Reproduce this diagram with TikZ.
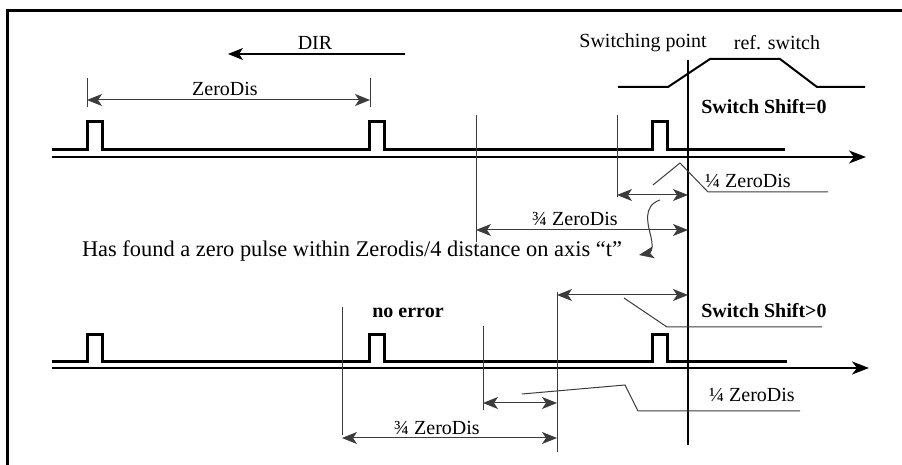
\documentclass[tikz,border=0pt]{standalone}
\usepackage{fontspec}
\setmainfont{Liberation Serif}
\usetikzlibrary{arrows.meta, positioning, calc}
\definecolor{thincol}{RGB}{60,60,60}

\begin{document}
\begin{tikzpicture}[
  x=0.5pt, y=-0.5pt,
  frame/.style={line width=1.5pt},
  signal/.style={line width=1.5pt, line join=miter},
  taxis/.style={line width=1pt, -{Stealth[length=8.5pt, width=6.5pt, inset=2.5pt]}},
  switchline/.style={line width=1.2pt},
  refsw/.style={line width=1pt},
  thinl/.style={line width=0.5pt, draw=thincol},
  dimarrow/.style={thinl, {Stealth[length=7.5pt, width=6pt, inset=2pt]}-{Stealth[length=7.5pt, width=6pt, inset=2pt]}},
  onearrow/.style={thinl, -{Stealth[length=7.5pt, width=6pt, inset=2pt]}},
  lbl/.style={inner sep=1pt, font=\fontsize{10}{12}\selectfont},
  blbl/.style={lbl, font=\fontsize{10}{12}\selectfont\bfseries}
]
\useasboundingbox (0,0) rectangle (902,465);

% Frame (cut off at right and bottom)
\draw[frame] (7,465) -- (7,11) -- (902,11);

% Direction
\coordinate (dirS) at (405,54);
\coordinate (dirE) at (228,54);
\draw[onearrow, line width=0.6pt, draw=black] (dirS) -- (dirE);
\node[lbl] (dir) at (315,43) {DIR};

% ZeroDis dimension
\coordinate (zdA) at (87,100);
\coordinate (zdB) at (370,100);
\draw[thinl] (87,78) -- (87,107);
\draw[thinl] (370,78) -- (370,107);
\draw[dimarrow] (zdA) -- (zdB);
\node[lbl] (zd) at (225,89) {ZeroDis};

% Reference switch
\draw[refsw] (618,87) -- (668,87) -- (710,59) -- (780,59) -- (817,87) -- (865,87);
\node[lbl] (swp) at (643,43) {Switching point};
\node[lbl] (rsw) at (777,43) {ref. switch};

% Switching point line
\coordinate (spT) at (688,60);
\coordinate (spB) at (688,445);
\draw[switchline] (spT) -- (spB);

% ---------------- upper case: Switch Shift=0
\draw[signal] (52,150) -- (87,150) -- (87,122) -- (102,122) -- (102,150)
  -- (369,150) -- (369,122) -- (384,122) -- (384,150)
  -- (652,150) -- (652,122) -- (667,122) -- (667,150) -- (785,150);
\coordinate (axA) at (52,157);
\coordinate (axB) at (866,157);
\draw[taxis] (axA) -- (axB);
\node[blbl] (sh0) at (764,107) {Switch Shift=0};

\draw[thinl] (476,115) -- (476,242);
\draw[thinl] (617,115) -- (617,197);

% 1/4 and 3/4 dimensions
\coordinate (qA) at (617,195);
\coordinate (qB) at (688,195);
\draw[dimarrow] (qA) -- (qB);
\coordinate (tqA) at (476,230);
\coordinate (tqB) at (688,230);
\draw[dimarrow] (tqA) -- (tqB);
\node[lbl] (tq) at (575,219) {¾ ZeroDis};

\node[lbl] (q) at (748,181) {¼ ZeroDis};
\draw[thinl] (653,185) -- (680,163) -- (708,192) -- (828,192);

% Note with curly arrow
\node[lbl, font=\fontsize{11.2}{13}\selectfont] (note) at (352,251)
  {Has found a zero pulse within Zerodis/4 distance on axis “t”};
\draw[onearrow] (660,200) .. controls (642,206) and (648,225) .. (651,237)
  .. controls (654,250) and (650,253) .. (639,255);

% ---------------- lower case: Switch Shift>0
\draw[signal] (52,362) -- (87,362) -- (87,335) -- (102,335) -- (102,362)
  -- (369,362) -- (369,335) -- (384,335) -- (384,362)
  -- (652,362) -- (652,335) -- (667,335) -- (667,362) -- (787,362);
\coordinate (bxA) at (52,368);
\coordinate (bxB) at (869,368);
\draw[taxis] (bxA) -- (bxB);
\node[blbl] (noerr) at (408,313) {no error};
\node[blbl] (shp) at (764,311) {Switch Shift>0};

\draw[thinl] (342,307) -- (342,435);
\draw[thinl] (483,326) -- (483,410);
\draw[thinl] (557,292) -- (557,452);

\coordinate (sA) at (557,295);
\coordinate (sB) at (688,295);
\draw[dimarrow] (sA) -- (sB);
\draw[thinl] (624,298) -- (667,327) -- (822,327);

\coordinate (bqA) at (483,403);
\coordinate (bqB) at (557,403);
\draw[dimarrow] (bqA) -- (bqB);
\node[lbl] (bq) at (752,395) {¼ ZeroDis};
\draw[thinl] (522,394) -- (625,385) -- (638,411) -- (800,411);

\coordinate (btqA) at (342,438);
\coordinate (btqB) at (557,438);
\draw[dimarrow] (btqA) -- (btqB);
\node[lbl] (btq) at (437,428) {¾ ZeroDis};

\end{tikzpicture}
\end{document}
